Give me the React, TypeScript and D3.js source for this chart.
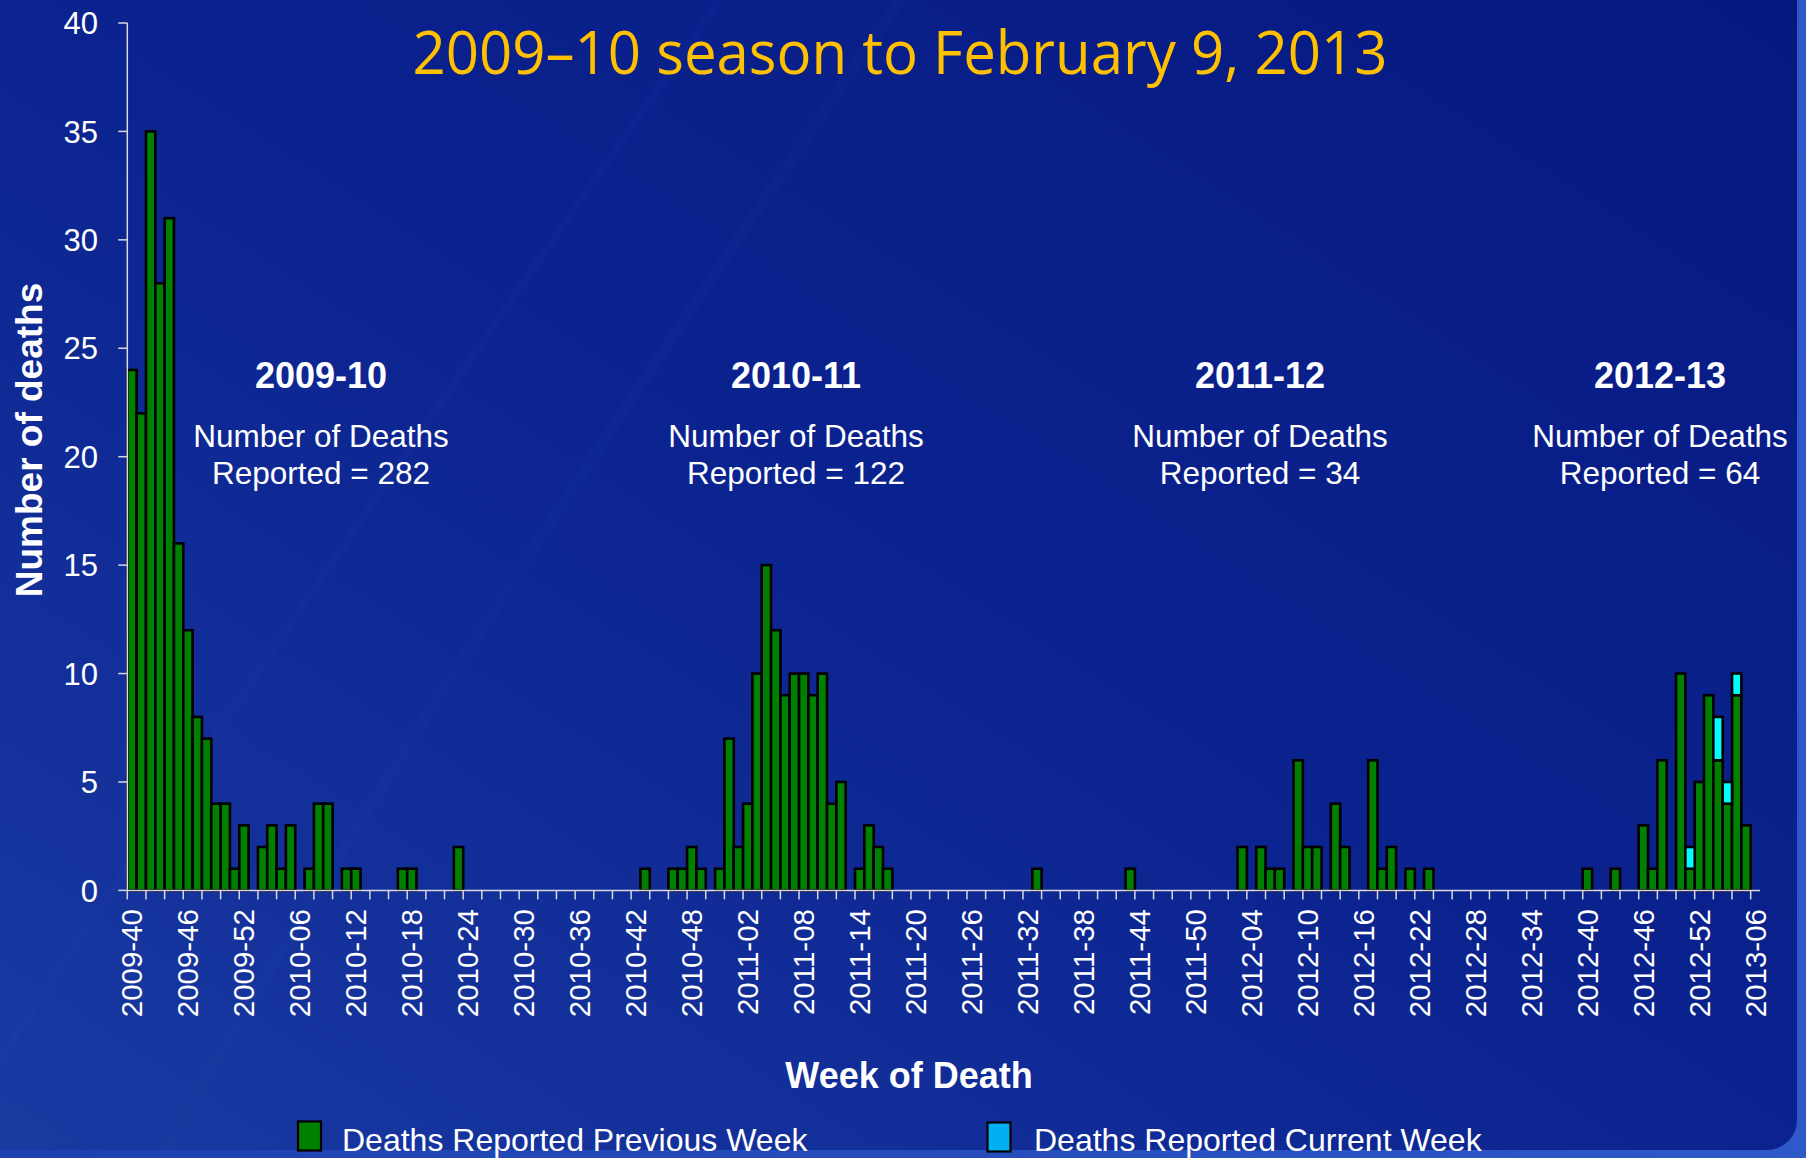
import React from "react";
import * as d3 from "d3";

// ---------- DATA ----------
const yearSpans: [number, number, number][] = [
  [2009, 40, 52],
  [2010, 1, 52],
  [2011, 1, 52],
  [2012, 1, 52],
  [2013, 1, 6],
];
const weeks: string[] = yearSpans.flatMap(([y, a, b]) =>
  d3.range(a, b + 1).map((w) => `${y}-${String(w).padStart(2, "0")}`)
);

// Deaths reported previous week, by week of death
const prev2009 = [24, 22, 35, 28, 31, 16, 12, 8, 7, 4, 4, 1, 3];
const prev2010 = [
  0, 2, 3, 1, 3, 0, 1, 4, 4, 0, 1, 1, 0, 0, 0, 0, 1, 1, 0, 0, 0, 0, 2, 0,
  0, 0, 0, 0, 0, 0, 0, 0, 0, 0, 0, 0, 0, 0, 0, 0, 0, 0,
  1, 0, 0, 1, 1, 2, 1, 0, 1, 7,
];
const prev2011 = [
  2, 4, 10, 15, 12, 9, 10, 10, 9, 10, 4, 5, 0, 1, 3, 2, 1,
  0, 0, 0, 0, 0, 0, 0, 0, 0, 0, 0, 0, 0, 0, 0,
  1,
  0, 0, 0, 0, 0, 0, 0, 0, 0,
  1,
  0, 0, 0, 0, 0, 0, 0, 0, 0,
];
const prev2012 = [
  0, 0, 2, 0, 2, 1, 1, 0, 6, 2, 2, 0, 4, 2, 0, 0, 6, 1, 2, 0, 1, 0, 1,
  0, 0, 0, 0, 0, 0, 0, 0, 0, 0, 0, 0, 0, 0, 0, 0,
  1, 0, 0, 1, 0, 0, 3, 1, 6, 0, 10, 1, 5,
];
const prev2013 = [9, 6, 4, 9, 3, 0];
const previousWeek = [...prev2009, ...prev2010, ...prev2011, ...prev2012, ...prev2013];

// Deaths reported current week (only non-zero weeks)
const currentWeeks = ["2012-51", "2013-02", "2013-03", "2013-04"];
const currentDeaths = [1, 2, 1, 1];

const seasons = ["2009-10", "2010-11", "2011-12", "2012-13"];
const seasonTotals = [282, 122, 34, 64];
const yTicks = [0, 5, 10, 15, 20, 25, 30, 35, 40];

const legendLabels = ["Deaths Reported Previous Week", "Deaths Reported Current Week"];

// ---------- LAYOUT ----------
const W = 1806;
const H = 1158;
const X0 = 127.3;
const X1 = 1760;
const Y0 = 890.4;
const Y40 = 23;
const seasonCenters = [321, 796, 1260, 1660];
const GREEN = "#008000";
const CYAN = "#00FFFF";
const LEG_CYAN = "#00B0F0";
const FONT = "'Liberation Sans', Arial, sans-serif";

export default function App() {
  const x = d3.scaleBand<string>().domain(weeks).range([X0, X1]).padding(0);
  const y = d3.scaleLinear().domain([0, 40]).range([Y0, Y40]);
  const bw = x.bandwidth();

  const curMap = new Map(currentWeeks.map((w, i) => [w, currentDeaths[i]]));
  const rows = weeks.map((w, i) => ({
    week: w,
    prev: previousWeek[i] || 0,
    cur: curMap.get(w) || 0,
  }));

  const stack = d3.stack<any>().keys(["prev", "cur"])(rows as any);

  const minorTicks = weeks.filter((_, i) => i % 2 === 0);
  const labelTicks = weeks.filter((_, i) => i % 6 === 0);

  return (
    <svg
      width={W}
      height={H}
      style={{ position: "fixed", left: 0, top: 0, display: "block" }}
      xmlns="http://www.w3.org/2000/svg"
    >
      <defs>
        <linearGradient id="panel" x1="1" y1="0" x2="0" y2="1">
          <stop offset="0" stopColor="#061880" />
          <stop offset="0.5" stopColor="#0b238f" />
          <stop offset="1" stopColor="#1a3aa2" />
        </linearGradient>
        <linearGradient id="edge" x1="0" y1="0" x2="1" y2="0">
          <stop offset="0" stopColor="#1d40b0" />
          <stop offset="1" stopColor="#2f58c8" />
        </linearGradient>
      </defs>
      <rect x={0} y={0} width={W} height={H} fill="url(#edge)" />
      <rect x={-40} y={-40} width={1797 + 40} height={1150 + 40} rx={30} fill="url(#panel)" />
      {/* faint streaks */}
      <path d="M 0 1060 Q 300 600 720 0" stroke="#3a5ac0" strokeOpacity={0.07} strokeWidth={8} fill="none" />
      <path d="M 160 1158 Q 420 700 900 0" stroke="#3a5ac0" strokeOpacity={0.05} strokeWidth={12} fill="none" />

      {/* Title */}
      <text
        x={900}
        y={74}
        textAnchor="middle"
        fill="#FFC000"
        fontFamily="'Open Sans', 'Noto Sans', sans-serif"
        fontSize={60}
        textLength={975}
        lengthAdjust="spacingAndGlyphs"
      >
        2009–10 season to February 9, 2013
      </text>

      {/* Bars */}
      {stack.map((layer, li) =>
        layer.map((d: any, i: number) => {
          const v = d[1] - d[0];
          if (v <= 0) return null;
          return (
            <rect
              key={`${li}-${i}`}
              x={x(weeks[i])!}
              y={y(d[1])}
              width={bw}
              height={y(d[0]) - y(d[1])}
              fill={li === 0 ? GREEN : CYAN}
              stroke="#000"
              strokeWidth={2.6}
            />
          );
        })
      )}

      {/* Y axis */}
      <line x1={X0} x2={X0} y1={Y0} y2={Y40} stroke="#d8d8e0" strokeWidth={1.5} />
      {yTicks.map((t) => (
        <g key={t}>
          <line x1={X0 - 9} x2={X0} y1={y(t)} y2={y(t)} stroke="#d8d8e0" strokeWidth={1.5} />
          <text
            x={98}
            y={y(t)}
            dy="0.36em"
            textAnchor="end"
            fill="#fff"
            fontFamily={FONT}
            fontSize={31}
          >
            {t}
          </text>
        </g>
      ))}

      {/* X axis */}
      <line x1={X0} x2={X1} y1={Y0} y2={Y0} stroke="#d8d8e0" strokeWidth={1.5} />
      {minorTicks.map((w) => (
        <line key={w} x1={x(w)!} x2={x(w)!} y1={Y0} y2={Y0 + 9} stroke="#d8d8e0" strokeWidth={1.5} />
      ))}
      {labelTicks.map((w) => {
        const cx = x(w)! + bw / 2;
        return (
          <text
            key={w}
            transform={`translate(${cx + 10.5},${909}) rotate(-90)`}
            textAnchor="end"
            fill="#fff"
            fontFamily={FONT}
            fontSize={29.5}
          >
            {w}
          </text>
        );
      })}

      {/* Axis titles */}
      <text
        transform={`translate(42,${440}) rotate(-90)`}
        textAnchor="middle"
        fill="#fff"
        fontFamily={FONT}
        fontWeight="bold"
        fontSize={37}
      >
        Number of deaths
      </text>
      <text x={909} y={1088} textAnchor="middle" fill="#fff" fontFamily={FONT} fontWeight="bold" fontSize={36}>
        Week of Death
      </text>

      {/* Season annotations */}
      {seasons.map((s, i) => (
        <g key={s} fill="#fff" fontFamily={FONT} textAnchor="middle">
          <text x={seasonCenters[i]} y={387.7} fontWeight="bold" fontSize={36}>
            {s}
          </text>
          <text x={seasonCenters[i]} y={446.7} fontSize={31.5}>
            Number of Deaths
          </text>
          <text x={seasonCenters[i]} y={484} fontSize={31.5}>
            {`Reported = ${seasonTotals[i]}`}
          </text>
        </g>
      ))}

      {/* Legend */}
      <rect x={298} y={1121.5} width={23} height={29} fill={GREEN} stroke="#000" strokeWidth={2.2} />
      <text x={342} y={1151} fill="#fff" fontFamily={FONT} fontSize={32}>
        {legendLabels[0]}
      </text>
      <rect x={987.5} y={1122.5} width={23} height={29} fill={LEG_CYAN} stroke="#000" strokeWidth={2.2} />
      <text x={1034} y={1151} fill="#fff" fontFamily={FONT} fontSize={32}>
        {legendLabels[1]}
      </text>
    </svg>
  );
}
